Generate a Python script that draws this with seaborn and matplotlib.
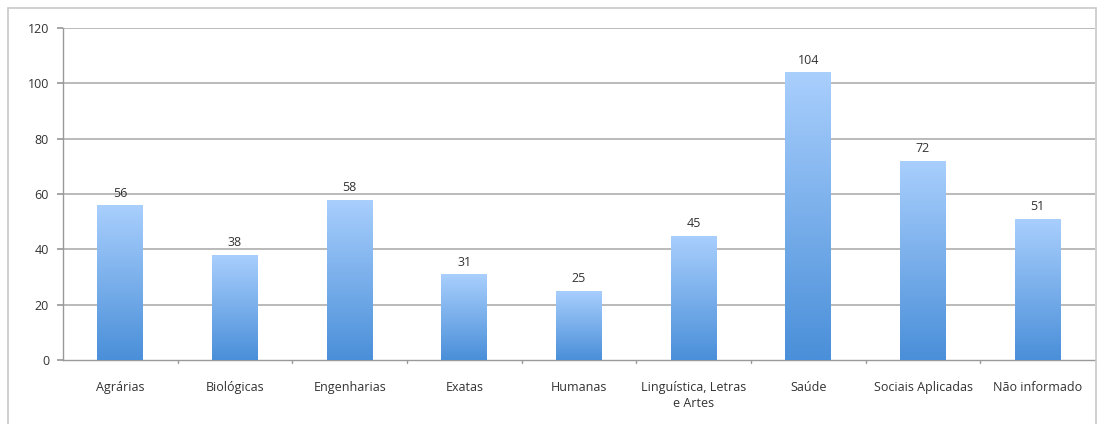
import matplotlib
matplotlib.use("Agg")
import matplotlib.pyplot as plt
import seaborn as sns
import numpy as np
import pandas as pd
from matplotlib.patches import Rectangle
from matplotlib.colors import LinearSegmentedColormap

categories = ["Agrárias", "Biológicas", "Engenharias", "Exatas", "Humanas",
              "Linguística, Letras\ne Artes", "Saúde", "Sociais Aplicadas", "Não informado"]
values = [56, 38, 58, 31, 25, 45, 104, 72, 51]
yticks = [0, 20, 40, 60, 80, 100, 120]

sns.set_theme(style="white")
plt.rcParams['font.family'] = ['Open Sans', 'DejaVu Sans']

df = pd.DataFrame({"cat": categories, "val": values})

fig = plt.figure(figsize=(10.99, 4.24), dpi=100)
ax = fig.add_axes([63/1099, 1-360/424, (1095-63)/1099, (360-28)/424])

sns.barplot(data=df, x="cat", y="val", ax=ax, width=0.4, color="#6aa5e8", saturation=1)

cmap = LinearSegmentedColormap.from_list("g", ["#4a8fd9", "#a9cffd"])
grad = np.linspace(0, 1, 256).reshape(-1, 1)
for p in ax.patches:
    x0, y0 = p.get_x(), p.get_y()
    w, h = p.get_width(), p.get_height()
    im = ax.imshow(grad, cmap=cmap, aspect="auto", origin="lower",
                   extent=[x0, x0 + w, y0, y0 + h], zorder=3)
    im.set_clip_path(p)
    p.set_facecolor("none")
    p.set_edgecolor("none")

for i, v in enumerate(values):
    ax.text(i, v + 2.0, str(v), ha="center", va="bottom", fontsize=9, color="#333333", zorder=4)

ax.set_xlim(-0.5, len(categories) - 0.5)
ax.set_ylim(0, 120)
ax.set_yticks(yticks)
ax.set_yticklabels([str(t) for t in yticks], fontsize=9, color="#333333")
ax.set_xticks(range(len(categories)))
ax.set_xticklabels(categories, fontsize=9, color="#333333", linespacing=1.3)
ax.set_xlabel("")
ax.set_ylabel("")

for t in yticks[1:]:
    ax.axhline(t, color="#b4b4b4", lw=1.3, zorder=1)

for s in ["top", "right"]:
    ax.spines[s].set_visible(False)
for s in ["left", "bottom"]:
    ax.spines[s].set_color("#9a9a9a")
    ax.spines[s].set_linewidth(1.0)

ax.tick_params(axis="x", length=0, pad=15)
ax.tick_params(axis="y", length=4, color="#9a9a9a", direction="out", pad=6, left=True)
for b in np.arange(0.5, len(categories) - 0.5, 1.0):
    ax.plot([b, b], [0, -1.2], color="#9a9a9a", lw=1.0, clip_on=False, zorder=2)

fig.patches.append(Rectangle((8/1099, -0.02), (1096-8)/1099, 1.02 - 8/424,
                             transform=fig.transFigure, fill=False,
                             edgecolor="#c8c8c8", lw=1.2))

fig.savefig("out.png", dpi=100)
